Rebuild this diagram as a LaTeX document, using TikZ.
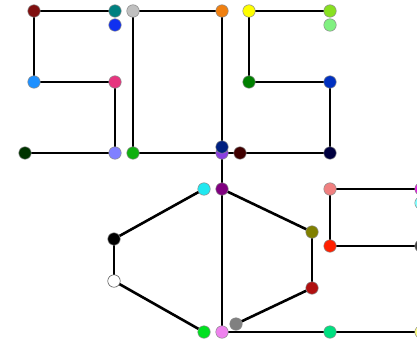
\documentclass[tikz,border=0pt]{standalone}
\begin{document}
\begin{tikzpicture}[x=1pt,y=-1pt,
  dot/.style={circle,inner sep=0pt,minimum size=12.5pt,draw=black!45,line width=0.5pt},
  edge/.style={draw=black,line width=2.6pt,shorten >=1pt,shorten <=1pt}]
\useasboundingbox (0,0) rectangle (417,342);
\clip (0,0) rectangle (417,342);
\fill[white] (0,0) rectangle (417,342);
% edges first (nodes drawn on top)
\coordinate (cA) at (34,11);   \coordinate (cB) at (115,11);
\coordinate (cD) at (133,11);  \coordinate (cE) at (34,82);
\coordinate (cF) at (115,82);  \coordinate (cG) at (25,153);
\coordinate (cH) at (115,153); \coordinate (cI) at (133,153);
\coordinate (cJ) at (222,11);  \coordinate (cK) at (249,11);
\coordinate (cL) at (330,11);  \coordinate (cN) at (249,82);
\coordinate (cO) at (330,82);  \coordinate (cP) at (222,147);
\coordinate (cQ) at (222,153); \coordinate (cR) at (240,153);
\coordinate (cS) at (330,153); \coordinate (cT) at (204,189);
\coordinate (cU) at (222,189); \coordinate (cV) at (114,239);
\coordinate (cW) at (114,281); \coordinate (cX) at (204,332);
\coordinate (cY) at (222,332); \coordinate (cZ) at (236,324);
\coordinate (ca) at (330,189); \coordinate (cb) at (421,189);
\coordinate (cc) at (421,203); \coordinate (cd) at (312,232);
\coordinate (ce) at (330,246); \coordinate (cf) at (421,246);
\coordinate (cg) at (312,288); \coordinate (ch) at (330,332);
\coordinate (ci) at (421,332);
\draw[edge] (cA) -- (cB);
\draw[edge] (cA) -- (cE);
\draw[edge] (cE) -- (cF);
\draw[edge] (cF) -- (cH);
\draw[edge] (cG) -- (cH);
\draw[edge] (cD) -- (cJ);
\draw[edge] (cD) -- (cI);
\draw[edge] (cI) -- (cQ);
\draw[edge] (cJ) -- (cQ);
\draw[edge] (cQ) -- (cR);
\draw[edge] (cK) -- (cL);
\draw[edge] (cK) -- (cN);
\draw[edge] (cN) -- (cO);
\draw[edge] (cO) -- (cS);
\draw[edge] (cR) -- (cS);
\draw[edge] (cQ) -- (cU);
\draw[edge] (cU) -- (cY);
\draw[edge] (cT) -- (cV);
\draw[edge] (cV) -- (cW);
\draw[edge] (cW) -- (cX);
\draw[edge] (cU) -- (cd);
\draw[edge] (cd) -- (cg);
\draw[edge] (cg) -- (cZ);
\draw[edge] (cY) -- (ch);
\draw[edge] (ch) -- (ci);
\draw[edge] (ca) -- (cb);
\draw[edge] (ca) -- (ce);
\draw[edge] (ce) -- (cf);
% nodes
\node[dot,fill={rgb,255:red,128;green,16;blue,16}] (A) at (cA) {};
\node[dot,fill={rgb,255:red,0;green,128;blue,128}] (B) at (cB) {};
\node[dot,fill={rgb,255:red,16;green,48;blue,240}] (C) at (115,25) {};
\node[dot,fill={rgb,255:red,192;green,192;blue,192}] (D) at (cD) {};
\node[dot,fill={rgb,255:red,30;green,144;blue,255}] (E) at (cE) {};
\node[dot,fill={rgb,255:red,230;green,53;blue,127}] (F) at (cF) {};
\node[dot,fill={rgb,255:red,0;green,51;blue,0}] (G) at (cG) {};
\node[dot,fill={rgb,255:red,128;green,128;blue,255}] (H) at (cH) {};
\node[dot,fill={rgb,255:red,16;green,176;blue,16}] (I) at (cI) {};
\node[dot,fill={rgb,255:red,240;green,128;blue,16}] (J) at (cJ) {};
\node[dot,fill={rgb,255:red,255;green,255;blue,0}] (K) at (cK) {};
\node[dot,fill={rgb,255:red,136;green,224;blue,32}] (L) at (cL) {};
\node[dot,fill={rgb,255:red,128;green,240;blue,128}] (M) at (330,25) {};
\node[dot,fill={rgb,255:red,0;green,128;blue,0}] (N) at (cN) {};
\node[dot,fill={rgb,255:red,0;green,48;blue,192}] (O) at (cO) {};
\node[dot,fill={rgb,255:red,138;green,62;blue,224}] (Q) at (cQ) {};
\node[dot,fill={rgb,255:red,0;green,32;blue,128}] (P) at (cP) {};
\node[dot,fill={rgb,255:red,64;green,0;blue,0}] (R) at (cR) {};
\node[dot,fill={rgb,255:red,0;green,0;blue,64}] (S) at (cS) {};
\node[dot,fill={rgb,255:red,32;green,232;blue,240}] (T) at (cT) {};
\node[dot,fill={rgb,255:red,128;green,0;blue,128}] (U) at (cU) {};
\node[dot,fill=black] (V) at (cV) {};
\node[dot,fill=white,draw=black!70] (W) at (cW) {};
\node[dot,fill={rgb,255:red,0;green,224;blue,32}] (X) at (cX) {};
\node[dot,fill={rgb,255:red,128;green,128;blue,128}] (Z) at (cZ) {};
\node[dot,fill={rgb,255:red,238;green,130;blue,238}] (Y) at (cY) {};
\node[dot,fill={rgb,255:red,240;green,128;blue,128}] (a) at (ca) {};
\node[dot,fill={rgb,255:red,224;green,32;blue,224}] (b) at (cb) {};
\node[dot,fill={rgb,255:red,128;green,255;blue,255}] (c) at (cc) {};
\node[dot,fill={rgb,255:red,128;green,128;blue,0}] (d) at (cd) {};
\node[dot,fill={rgb,255:red,255;green,32;blue,0}] (e) at (ce) {};
\node[dot,fill={rgb,255:red,64;green,64;blue,64}] (f) at (cf) {};
\node[dot,fill={rgb,255:red,176;green,16;blue,16}] (g) at (cg) {};
\node[dot,fill={rgb,255:red,0;green,224;blue,128}] (h) at (ch) {};
\node[dot,fill={rgb,255:red,255;green,255;blue,128}] (i) at (ci) {};
\end{tikzpicture}
\end{document}
